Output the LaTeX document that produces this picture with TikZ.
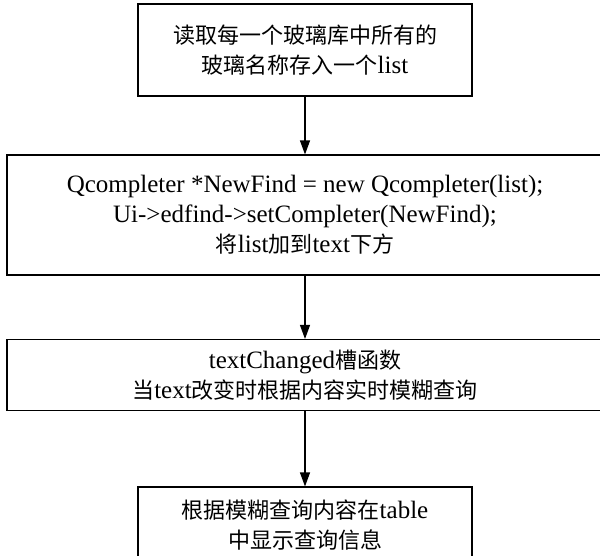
\documentclass[tikz,border=0pt]{standalone}
\usepackage{fontspec}
\setmainfont{Liberation Serif}
\newfontfamily\cjk{Noto Sans CJK SC}[Scale=0.88]
\usetikzlibrary{arrows.meta}
\newcommand*{\zh}[1]{{\cjk #1}}
\newcommand*{\narrow}{334pt}
\newcommand*{\wide  }{596pt}
\newcommand*{\midx  }{305}

\begin{document}
\begin{tikzpicture}[x=1pt,y=1pt,font=\fontsize{25}{30}\selectfont,
    box/.style={draw, line width=1.1pt, align=center, inner sep=0pt},
    flow/.style={-{Triangle[width=10pt,length=14pt]}, line width=1.1pt}]
    \useasboundingbox (0,0) rectangle (600,-555);
    \clip (0,0) rectangle (600,-555);
        \node [box, minimum width=\narrow, minimum height=92pt] (read) at (\midx,-50)
            {\zh{读取每一个玻璃库中所有的}\\\zh{玻璃名称存入一个}list};
        \node [box, minimum width=\wide, minimum height=120pt] (comp) at (\midx,-215)
            {Qcompleter *NewFind = new Qcompleter(list);\\
             Ui->edfind->setCompleter(NewFind);\\
             \zh{将}list\zh{加到}text\zh{下方}};
        \node [box, minimum width=\wide, minimum height=71pt] (slot) at (\midx,-375)
            {textChanged\zh{槽函数}\\\zh{当}text\zh{改变时根据内容实时模糊查询}};
        % bottom edge lies below the page, as in the reference
        \node [box, minimum width=\narrow, minimum height=76pt] (show) at (\midx,-525)
            {\zh{根据模糊查询内容在}table\\\zh{中显示查询信息}};
        \draw [flow] (read) -- (comp);
        \draw [flow] (comp) -- (slot);
        \draw [flow] (slot) -- (show);
    \end{tikzpicture}
\end{document}
